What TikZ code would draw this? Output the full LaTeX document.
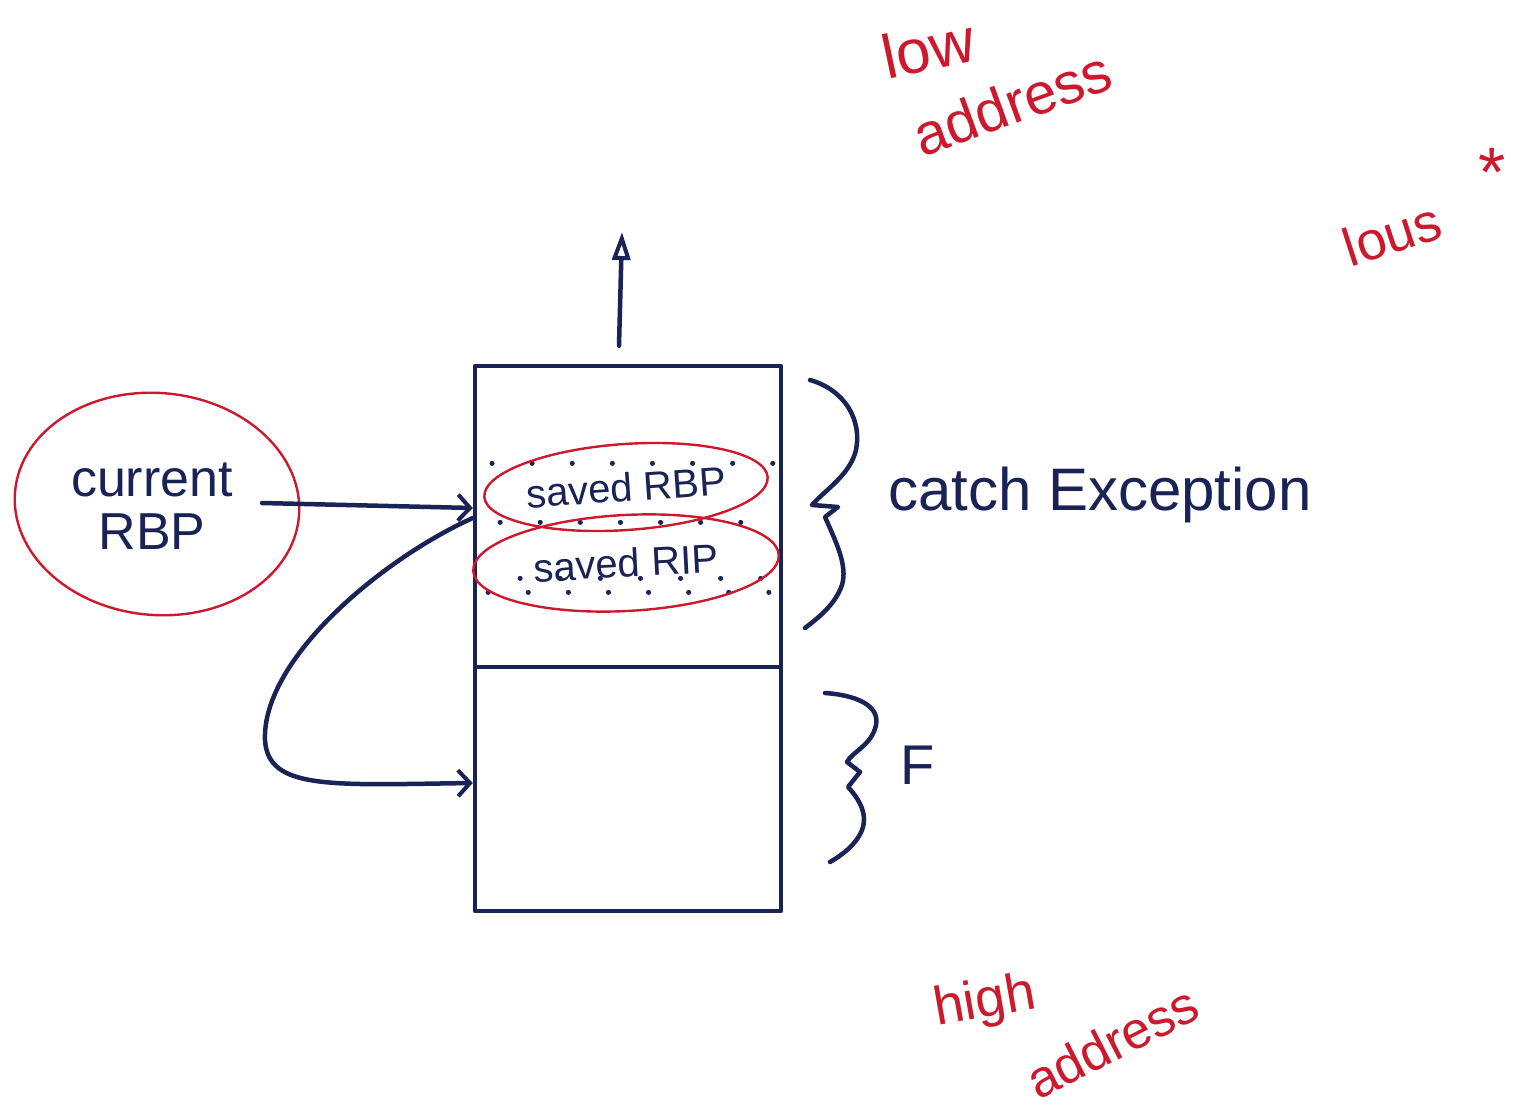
\documentclass[tikz,border=0pt]{standalone}
\usepackage{fontspec}
\setmainfont{Liberation Sans}
\usetikzlibrary{shapes.geometric,arrows.meta}
\definecolor{ink}{RGB}{25,35,85}
\definecolor{pen}{RGB}{205,25,45}
\tikzset{
  inkline/.style={draw=ink, line width=4.5pt, line cap=round, line join=round},
  penline/.style={draw=pen, line width=2.4pt},
  barb/.style={-{Straight Barb[length=12pt,width=26pt,line width=4pt]}},
  frame/.style={inkline, rectangle, minimum width=306pt, inner sep=0pt},
  oval/.style={ellipse, penline, inner sep=0pt, text=ink},
  inktext/.style={text=ink, inner sep=0pt},
  pentext/.style={text=pen, inner sep=0pt},
  dotrow/.style={draw=ink, line width=5pt, line cap=round, dash pattern=on 0.1pt off 40pt}
}
\newcommand{\fs}[1]{\fontsize{#1}{#1}\selectfont}
\begin{document}
\begin{tikzpicture}[x=1pt,y=-1pt]
\useasboundingbox (0,0) rectangle (1527,1113);
\fill[white] (0,0) rectangle (1527,1113);

% stack frames
\node[frame, minimum height=301pt] (frameC) at (628,516.5) {};
\node[frame, minimum height=244pt] (frameF) at (628,789) {};

% dotted rows
\draw[dotrow] (492,463) -- (775,463);
\draw[dotrow, dash phase=20pt] (480,522) -- (780,522);
\draw[dotrow, dash phase=10pt] (490,578) -- (780,578);
\draw[dotrow, dash phase=30pt] (478,592) -- (780,592);

% saved RBP / RIP ovals
\node[oval, minimum width=284pt, minimum height=86pt, rotate=4] (srbp) at (626,487) {\fs{40}saved RBP};
\node[oval, minimum width=306pt, minimum height=96pt, rotate=3] (srip) at (626,563) {\fs{40}saved RIP};

% current RBP
\node[oval, minimum width=285pt, minimum height=222pt, rotate=-5] (cur) at (157,504) {};
\node[inktext, align=center] (curtxt) at (152,506) {\fs{52}current\\[16pt]\fs{52}RBP};

% arrows
\coordinate (curtip) at (262,503);
\draw[inkline, barb] (curtip) -- (frameC.west |- 0,508);
\draw[inkline, barb] (frameC.west |- 0,518) .. controls (380,560) and (262,660) .. (265,740)
   .. controls (268,790) and (330,785) .. (frameF.west |- 0,783);
\coordinate (uptip) at (622,232);
\draw[inkline, -{Triangle[open,length=28pt,width=18pt,line width=4pt]}] (frameC.north -| 619,0) ++(0,-18) coordinate (upbase) -- (uptip);

% braces
\draw[inkline] (810,380) .. controls (845,390) and (862,420) .. (856,450)
  .. controls (850,475) and (825,490) .. (812,505) -- (838,507) -- (825,517)
  .. controls (835,540) and (848,565) .. (842,585) .. controls (835,605) and (818,618) .. (805,628);
\node[inktext, anchor=west] (catch) at (888,495) {\fs{60}catch Exception};

\draw[inkline] (825,693) .. controls (855,695) and (880,705) .. (876,725)
  .. controls (872,745) and (852,752) .. (847,762) -- (860,772) -- (848,787)
  .. controls (860,800) and (868,815) .. (862,830) .. controls (856,845) and (842,855) .. (830,862);
\node[inktext, anchor=west] (ftxt) at (900,765) {\fs{56}F};

% address annotations
\node[pentext, rotate=12] (low) at (928,48) {\fs{62}low};
\node[pentext, rotate=20] (lowaddr) at (1012,103) {\fs{58}address};
\node[pentext, rotate=18] (lous) at (1392,234) {\fs{54}lous};
\node[pentext] (star) at (1492,172) {\fs{70}*};
\node[pentext, rotate=10] (high) at (985,1003) {\fs{54}high};
\node[pentext, rotate=27] (highaddr) at (1112,1042) {\fs{52}address};
\end{tikzpicture}
\end{document}
